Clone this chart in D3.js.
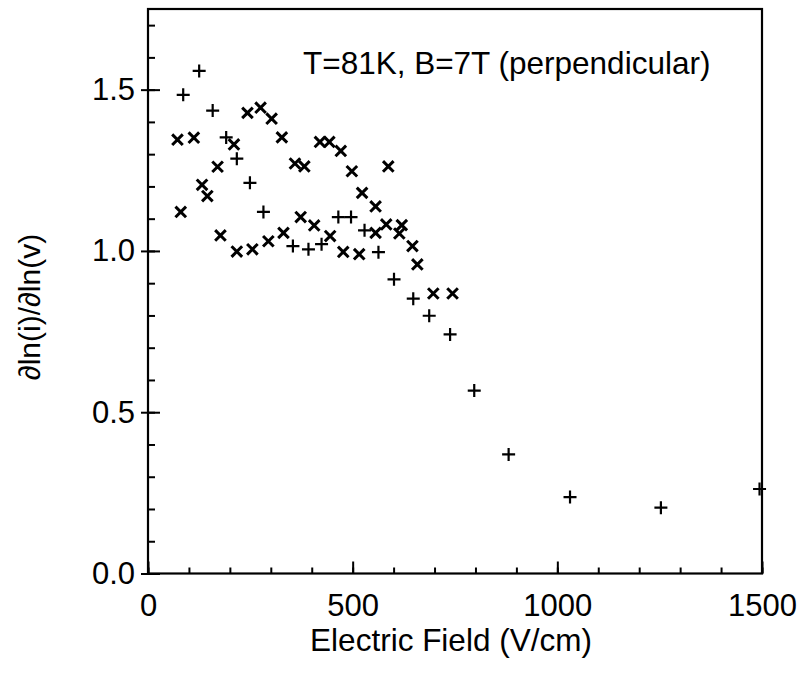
<!DOCTYPE html>
<html>
<head>
<meta charset="utf-8">
<script src="https://cdn.jsdelivr.net/npm/d3@7"></script>
<style>
  html, body { margin: 0; padding: 0; background: #fff; }
  svg { display: block; font-family: "Liberation Sans", Arial, Helvetica, sans-serif; }
</style>
</head>
<body>
<svg id="chart" width="802" height="675"></svg>
<script>
// series drawn with "x" markers
const xSeriesField = [72, 80, 112, 132, 145, 170, 177, 210, 217, 243, 255, 275, 294, 302, 327, 331,
  359, 373, 382, 406, 420, 443, 445, 471, 477, 498, 516, 523, 556, 556, 582, 587, 614, 620, 646, 658, 697, 744];
const xSeriesSlope = [1.345, 1.121, 1.351, 1.205, 1.170, 1.261, 1.048, 1.330, 0.998, 1.428, 1.005, 1.444, 1.030, 1.410, 1.352, 1.056,
  1.271, 1.105, 1.262, 1.079, 1.338, 1.338, 1.046, 1.310, 0.997, 1.247, 0.990, 1.180, 1.138, 1.056, 1.082, 1.262, 1.054, 1.080, 1.015, 0.958, 0.868, 0.868];

// series drawn with "+" markers
const plusSeriesField = [86, 125, 158, 191, 217, 249, 282, 354, 392, 424, 465, 496, 529, 563, 601, 648,
  687, 738, 797, 881, 1031, 1253, 1494];
const plusSeriesSlope = [1.484, 1.558, 1.435, 1.352, 1.286, 1.211, 1.121, 1.015, 1.005, 1.021, 1.105, 1.105, 1.064, 0.996, 0.912, 0.852,
  0.799, 0.741, 0.567, 0.369, 0.237, 0.204, 0.262];

const xMajorTicks = [0, 500, 1000, 1500];
const xMinorTicks = d3.range(0, 1501, 100);
const yMajorTicks = [0, 0.5, 1.0, 1.5];
const yMinorTicks = d3.range(0, 18).map(i => i / 10);

const annotation = 'T=81K, B=7T (perpendicular)';
const xTitle = 'Electric Field (V/cm)';
const yTitle = '\u2202ln(i)/\u2202ln(v)';

const plotLeft = 148, plotRight = 762, plotTop = 9, plotBottom = 573.5;
const tickFs = 31;

const svg = d3.select('#chart');

const x = d3.scaleLinear().domain([0, 1500]).range([plotLeft, plotRight]);
const y = d3.scaleLinear().domain([0, 1.75]).range([plotBottom, plotTop]);

// frame
svg.append('rect')
  .attr('x', plotLeft).attr('y', plotTop)
  .attr('width', plotRight - plotLeft).attr('height', plotBottom - plotTop)
  .attr('fill', 'none').attr('stroke', '#000').attr('stroke-width', 2.2);

function styleAxis(g) {
  g.select('.domain').remove();
  g.selectAll('line').attr('stroke', '#000').attr('stroke-width', 2);
  g.selectAll('text').attr('fill', '#000').style('font-size', tickFs + 'px')
    .style('font-family', '"Liberation Sans", Arial, Helvetica, sans-serif');
}

// x axis: minor and major ticks point inward
svg.append('g').attr('transform', `translate(0,${plotBottom})`)
  .call(d3.axisBottom(x).tickValues(xMinorTicks).tickSize(-6).tickFormat(''))
  .call(styleAxis);
svg.append('g').attr('transform', `translate(0,${plotBottom})`)
  .call(d3.axisBottom(x).tickValues(xMajorTicks).tickSize(-12).tickPadding(20).tickFormat(d3.format('d')))
  .call(styleAxis);

// y axis: minor inward, major crosses the axis
svg.append('g').attr('transform', `translate(${plotLeft},0)`)
  .call(d3.axisLeft(y).tickValues(yMinorTicks).tickSize(-7).tickFormat(''))
  .call(styleAxis);
svg.append('g').attr('transform', `translate(${plotLeft},0)`)
  .call(d3.axisLeft(y).tickValues(yMajorTicks).tickSize(-12).tickFormat(''))
  .call(styleAxis);
svg.append('g').attr('transform', `translate(${plotLeft},0)`)
  .call(d3.axisLeft(y).tickValues(yMajorTicks).tickSize(7).tickPadding(6).tickFormat(d3.format('.1f')))
  .call(styleAxis);

// markers
const ph = 6.5;
const plusPath = `M${-ph},0H${ph}M0,${-ph}V${ph}`;
const xh = 5.3;
const xPath = `M${-xh},${-xh}L${xh},${xh}M${-xh},${xh}L${xh},${-xh}`;

svg.append('g').selectAll('path')
  .data(d3.zip(plusSeriesField, plusSeriesSlope))
  .join('path')
  .attr('transform', d => `translate(${x(d[0])},${y(d[1])})`)
  .attr('d', plusPath)
  .attr('fill', 'none').attr('stroke', '#000').attr('stroke-width', 2.2);

svg.append('g').selectAll('path')
  .data(d3.zip(xSeriesField, xSeriesSlope))
  .join('path')
  .attr('transform', d => `translate(${x(d[0])},${y(d[1])})`)
  .attr('d', xPath)
  .attr('fill', 'none').attr('stroke', '#000').attr('stroke-width', 3);

// annotation
svg.append('text')
  .attr('x', 303).attr('y', 74)
  .style('font-size', '31.5px')
  .text(annotation);

// axis titles
svg.append('text')
  .attr('x', 451).attr('y', 651)
  .attr('text-anchor', 'middle')
  .style('font-size', '31.5px')
  .text(xTitle);

svg.append('text')
  .attr('transform', 'translate(40,307) rotate(-90)')
  .attr('text-anchor', 'middle')
  .style('font-size', '30px')
  .text(yTitle);
</script>
</body>
</html>
